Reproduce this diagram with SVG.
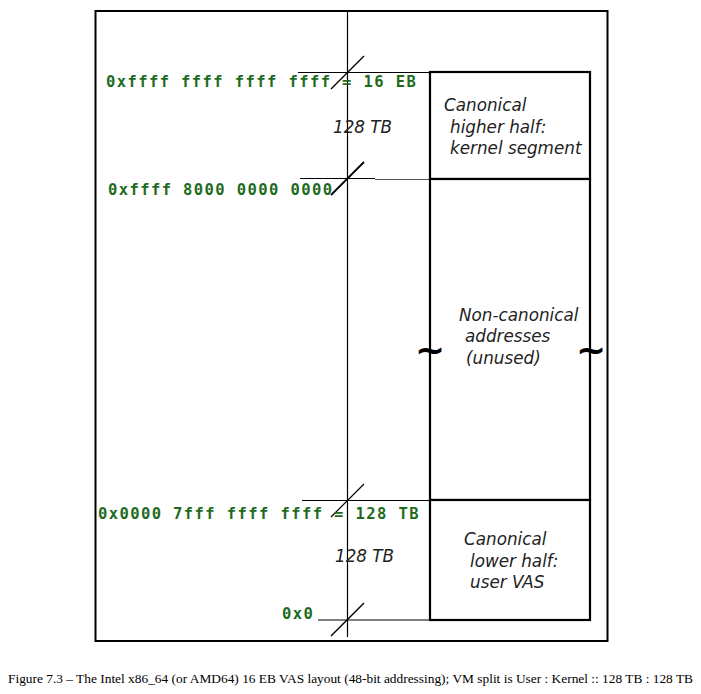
<svg xmlns="http://www.w3.org/2000/svg" width="701" height="694" viewBox="0 0 701 694">
<style>
.addr{font-family:"DejaVu Sans Mono",monospace;font-weight:bold;font-size:15.5px;fill:#1e6b1e;letter-spacing:1.4px}
.lbl{font-family:"DejaVu Sans",sans-serif;font-style:italic;font-size:16.8px;fill:#222}
.thin{stroke:#000;stroke-width:1.2;fill:none}
.box{stroke:#000;stroke-width:2.2;fill:#fff}
.tilde{font-family:"DejaVu Sans",sans-serif;font-weight:bold;font-size:36px;fill:#000}
.cap{font-family:"Liberation Serif",serif;font-size:13.5px;fill:#000}
</style>
<rect width="701" height="694" fill="#fff"/>
<rect id="frame" x="95.5" y="11" width="512" height="630" fill="none" stroke="#000" stroke-width="2"/>
<g id="connectors">
<line class="thin" x1="347.5" y1="12" x2="347.5" y2="637"/>
<line class="thin" x1="298" y1="72.5" x2="430" y2="72.5"/>
<line class="thin" x1="300" y1="178.5" x2="375" y2="178.5"/>
<line x1="375" y1="179.5" x2="430" y2="179.5" stroke="#555" stroke-width="1.2"/>
<line class="thin" x1="302" y1="500.5" x2="430" y2="500.5"/>
<line class="thin" x1="318" y1="620" x2="430" y2="620"/>
<line class="thin" x1="331" y1="89" x2="364" y2="56"/>
<line x1="331" y1="195" x2="364" y2="162" stroke="#000" stroke-width="1.8"/>
<line class="thin" x1="331" y1="517" x2="364" y2="484"/>
<line x1="331" y1="636" x2="364" y2="603" stroke="#000" stroke-width="1.5"/>
</g>
<g id="kernel">
<rect class="box" x="430" y="72" width="160" height="107"/>
<text class="lbl" x="444" y="111">Canonical</text>
<text class="lbl" x="450" y="133">higher half:</text>
<text class="lbl" x="450" y="154">kernel segment</text>
</g>
<g id="noncanonical">
<rect class="box" x="430" y="179" width="160" height="321"/>
<text class="lbl" x="459" y="321">Non-canonical</text>
<text class="lbl" x="465" y="342">addresses</text>
<text class="lbl" x="466" y="364">(unused)</text>
<text class="tilde" x="415" y="362">~</text>
<text class="tilde" x="576" y="362">~</text>
</g>
<g id="user">
<rect class="box" x="430" y="500" width="160" height="120"/>
<text class="lbl" x="464" y="545">Canonical</text>
<text class="lbl" x="470" y="567">lower half:</text>
<text class="lbl" x="470" y="588">user VAS</text>
</g>
<g id="labels">
<text class="addr" x="106" y="87">0xffff ffff ffff ffff = 16 EB</text>
<text class="addr" x="108" y="195">0xffff 8000 0000 0000</text>
<text class="addr" x="98" y="519">0x0000 7fff ffff ffff = 128 TB</text>
<text class="addr" x="282" y="619">0x0</text>
<text class="lbl" x="333" y="133">128 TB</text>
<text class="lbl" x="335" y="562">128 TB</text>
</g>
<text class="cap" x="8" y="683" textLength="685" lengthAdjust="spacingAndGlyphs">Figure 7.3 – The Intel x86_64 (or AMD64) 16 EB VAS layout (48-bit addressing); VM split is User : Kernel :: 128 TB : 128 TB</text>
</svg>
